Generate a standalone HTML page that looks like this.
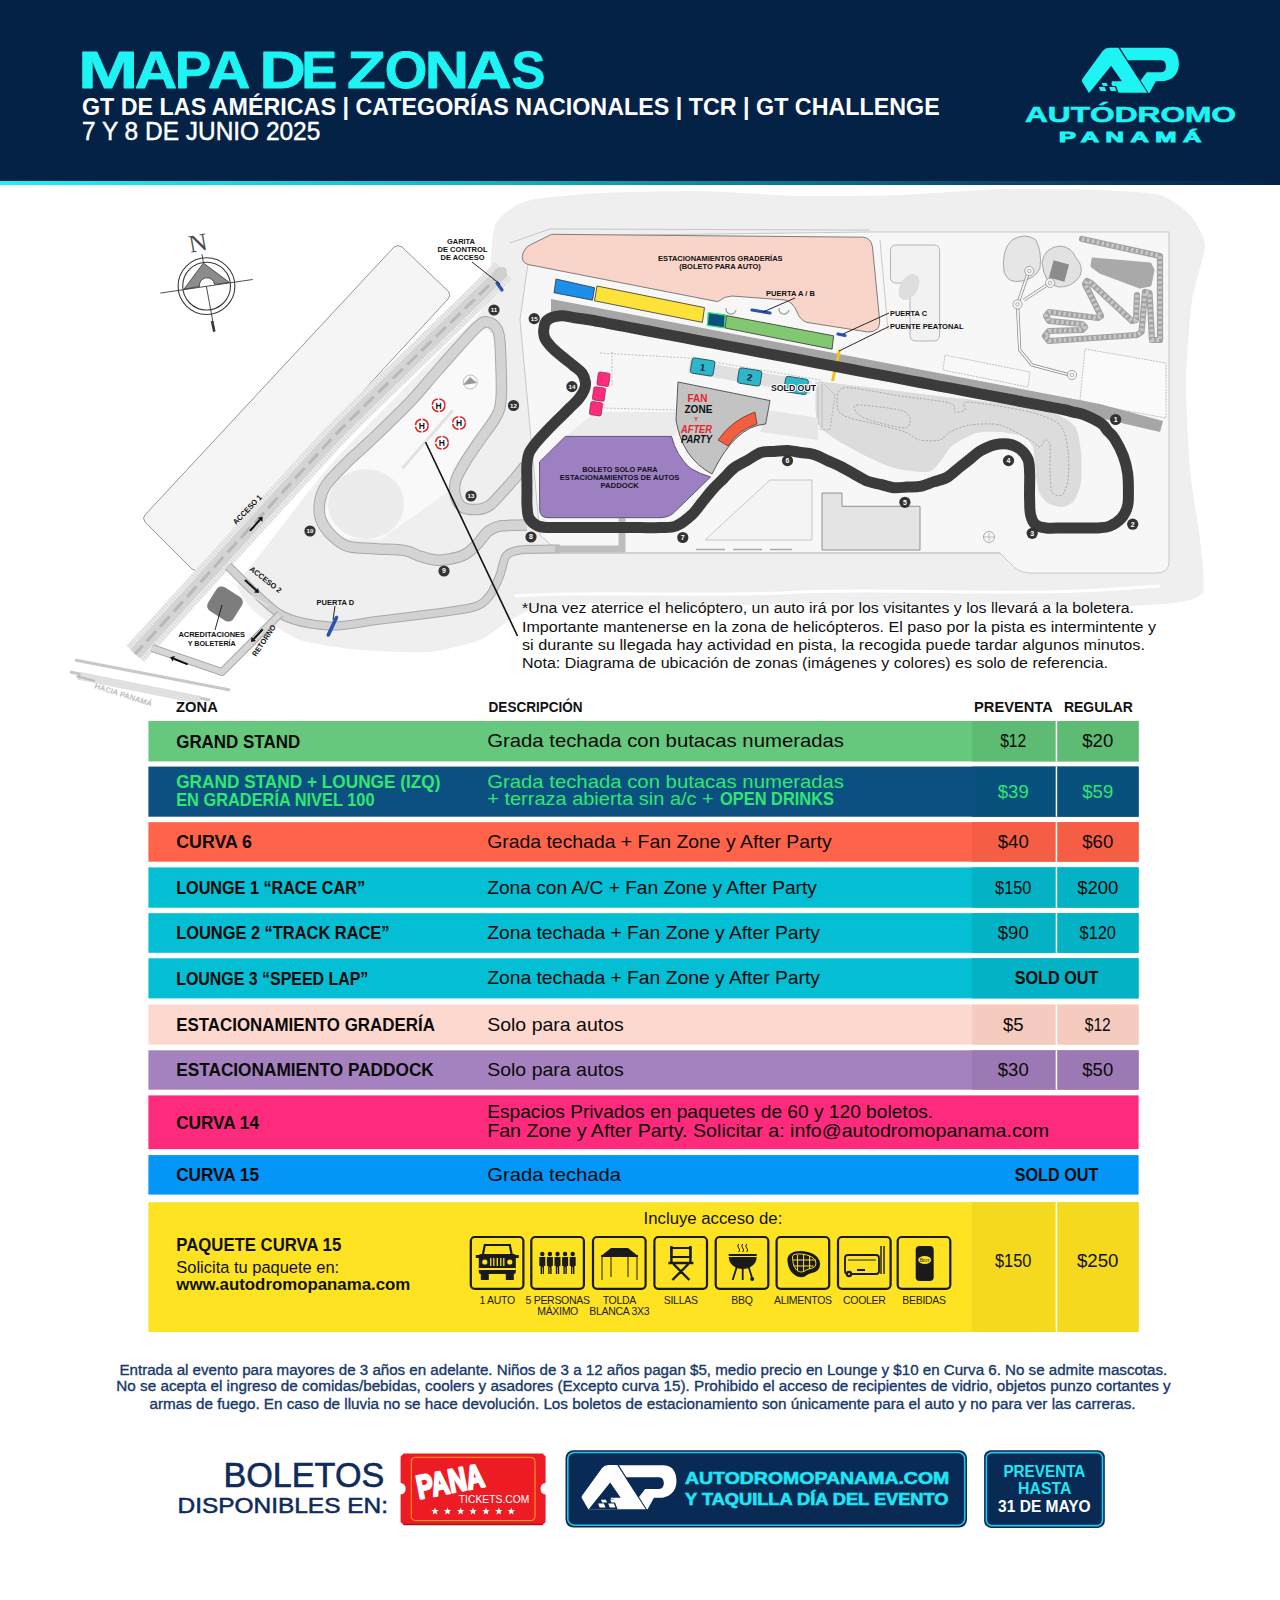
<!DOCTYPE html>
<html><head><meta charset="utf-8"><style>
html,body{margin:0;padding:0;background:#fff;}
svg{display:block;}
</style></head><body>
<svg width="1280" height="1600" viewBox="0 0 1280 1600">
<rect width="1280" height="1600" fill="#ffffff"/>
<path d="M494.0,228.0 C496.7,218.3 507.9,210.9 512.0,208.0 C516.1,205.1 526.2,200.5 535.0,199.0 C543.8,197.5 583.5,193.8 600.0,193.0 C616.5,192.2 680.0,190.7 700.0,191.0 C720.0,191.3 780.0,195.6 800.0,196.0 C820.0,196.4 880.0,195.7 900.0,195.0 C920.0,194.3 980.0,189.5 1000.0,189.0 C1020.0,188.5 1084.0,189.4 1100.0,190.0 C1116.0,190.6 1151.0,192.5 1160.0,195.0 C1169.0,197.5 1185.5,210.0 1190.0,215.0 C1194.5,220.0 1204.8,236.5 1205.0,245.0 C1205.2,253.5 1193.9,286.5 1192.0,300.0 C1190.1,313.5 1186.2,363.0 1186.0,380.0 C1185.8,397.0 1188.6,454.0 1190.0,470.0 C1191.4,486.0 1198.7,527.8 1200.0,540.0 C1201.3,552.2 1205.5,585.7 1203.0,592.0 C1200.5,598.3 1185.3,601.5 1175.0,603.0 C1164.7,604.5 1117.5,607.0 1100.0,607.0 C1082.5,607.0 1020.0,603.0 1000.0,603.0 C980.0,603.0 920.0,607.0 900.0,607.0 C880.0,607.0 820.0,603.0 800.0,603.0 C780.0,603.0 720.0,607.0 700.0,607.0 C680.0,607.0 616.0,603.0 600.0,603.0 C584.0,603.0 549.0,605.3 540.0,607.0 C531.0,608.7 516.0,616.7 510.0,620.0 C504.0,623.3 488.0,636.8 480.0,640.0 C472.0,643.2 442.0,651.0 430.0,652.0 C418.0,653.0 373.0,651.2 360.0,650.0 C347.0,648.8 310.5,643.8 300.0,640.0 C289.5,636.2 261.2,617.5 255.0,612.0 C248.8,606.5 237.3,591.0 238.0,585.0 C238.7,579.0 253.2,563.5 262.0,552.0 C270.8,540.5 315.4,482.7 326.0,470.0 C336.6,457.3 356.6,436.8 368.0,425.0 C379.4,413.2 428.3,364.0 440.0,352.0 C451.7,340.0 479.6,317.4 485.0,305.0 C490.4,292.6 491.3,237.7 494.0,228.0 Z" fill="#efefef"/>
<path d="M515,596 C600,590 700,598 800,592 C900,588 1000,596 1100,590 L1160,586" stroke="#ffffff" stroke-width="3" fill="none"/>
<path d="M870,232 L1169,232 L1169,562 Q1169,573 1156,573 L1030,573 Q1018,573 1010,563 L1000,553 L700,553 L560,553 L540,535 L520,320 L530,250 L560,236 Z" fill="#f7f7f7" stroke="#bdbdbd" stroke-width="0.8"/>
<path d="M490.0,327.0 C491.0,329.2 494.8,327.8 496.0,340.0 C497.2,352.2 498.0,386.7 497.0,400.0 C496.0,413.3 497.0,408.3 490.0,420.0 C483.0,431.7 461.3,458.0 455.0,470.0 C448.7,482.0 449.5,486.2 452.0,492.0 C454.5,497.8 462.0,502.0 470.0,505.0 C478.0,508.0 493.3,510.8 500.0,510.0 C506.7,509.2 508.0,506.7 510.0,500.0 C512.0,493.3 510.3,478.3 512.0,470.0 C513.7,461.7 518.7,453.3 520.0,450.0" fill="none"/>
<path d="M488,330 L496,338 L497,405 L452,470 L448,492 L380,540 L340,538 L325,515 L330,485 L470,332 Z" fill="#f9f9f9"/>
<ellipse cx="366" cy="504" rx="38" ry="35" fill="#ececec"/>
<path d="M394,247 Q398,244 402,247 L449,292 Q451,296 448,299 L199,569 Q196,572 192,569 L145,522 Q142,518 145,515 Z" fill="#f5f5f5" stroke="#8a8a8a" stroke-width="0.9"/>
<path d="M503.0,271.0 C499.4,274.6 496.4,278.0 481.6,292.5 C466.8,307.0 436.4,336.2 414.0,358.0 C391.6,379.8 365.0,404.9 346.9,423.1 C328.8,441.3 325.4,445.7 305.6,467.2 C285.8,488.7 253.7,523.8 228.0,552.0 C202.3,580.2 166.9,619.2 151.4,636.2 C135.9,653.2 137.7,651.0 135.0,654.0" stroke="#ececec" stroke-width="24" fill="none"/>
<path d="M503.0,271.0 C499.4,274.6 496.4,278.0 481.6,292.5 C466.8,307.0 436.4,336.2 414.0,358.0 C391.6,379.8 365.0,404.9 346.9,423.1 C328.8,441.3 325.4,445.7 305.6,467.2 C285.8,488.7 253.7,523.8 228.0,552.0 C202.3,580.2 166.9,619.2 151.4,636.2 C135.9,653.2 137.7,651.0 135.0,654.0" stroke="#a8a8a8" stroke-width="24" fill="none" stroke-dasharray="0.8 2" opacity="0.35"/>
<path d="M503.0,271.0 C499.4,274.6 496.4,278.0 481.6,292.5 C466.8,307.0 436.4,336.2 414.0,358.0 C391.6,379.8 365.0,404.9 346.9,423.1 C328.8,441.3 325.4,445.7 305.6,467.2 C285.8,488.7 253.7,523.8 228.0,552.0 C202.3,580.2 166.9,619.2 151.4,636.2 C135.9,653.2 137.7,651.0 135.0,654.0" stroke="#d4d4d4" stroke-width="13" fill="none"/>
<path d="M503.0,271.0 C499.4,274.6 496.4,278.0 481.6,292.5 C466.8,307.0 436.4,336.2 414.0,358.0 C391.6,379.8 365.0,404.9 346.9,423.1 C328.8,441.3 325.4,445.7 305.6,467.2 C285.8,488.7 253.7,523.8 228.0,552.0 C202.3,580.2 166.9,619.2 151.4,636.2 C135.9,653.2 137.7,651.0 135.0,654.0" stroke="#b8b8b8" stroke-width="3" stroke-dasharray="14 6" fill="none"/>
<ellipse cx="500" cy="274" rx="8" ry="6" fill="#cfcfcf" transform="rotate(-45 500 274)"/>
<path d="M525.0,466.0 C523.4,467.9 520.0,472.5 515.6,477.5 C511.2,482.5 503.1,491.6 498.8,496.2 C494.4,500.9 492.8,503.4 489.4,505.6 C486.0,507.8 482.5,509.1 478.1,509.4 C473.7,509.7 466.8,509.7 463.0,507.5 C459.2,505.3 456.8,500.6 455.6,496.2 C454.4,491.9 454.0,486.9 455.6,481.2 C457.2,475.6 460.9,469.4 465.0,462.5 C469.1,455.6 474.8,447.6 480.0,440.0 C485.2,432.4 492.5,423.7 496.0,417.0 C499.5,410.3 500.2,408.4 501.0,400.0 C501.8,391.6 501.4,377.6 501.0,366.6 C500.6,355.6 500.6,341.1 498.8,333.8 C496.9,326.4 493.6,323.9 490.0,322.8 C486.4,321.7 485.6,319.3 476.9,327.2 C468.2,335.1 449.0,357.7 438.0,370.0 C427.0,382.3 422.1,389.3 411.0,401.0 C399.9,412.7 381.9,429.8 371.2,440.0 C360.6,450.2 354.4,455.0 346.9,462.5 C339.4,470.0 330.8,478.4 326.2,485.0 C321.7,491.6 320.6,496.3 319.7,501.9 C318.8,507.5 318.9,513.4 320.6,518.8 C322.3,524.1 325.6,529.2 330.0,533.8 C334.4,538.3 339.4,543.5 346.9,546.0 C354.4,548.5 365.3,548.0 375.0,548.8 C384.7,549.5 397.5,549.4 405.0,550.6 C412.5,551.9 415.0,554.7 420.0,556.2 C425.0,557.8 430.0,559.5 435.0,560.0 C440.0,560.5 445.0,559.9 450.0,559.0 C455.0,558.1 460.3,557.0 465.0,554.4 C469.7,551.8 474.4,546.9 478.1,543.1 C481.9,539.4 484.1,534.7 487.5,531.9 C490.9,529.1 494.1,527.4 498.8,526.2 C503.4,525.1 510.9,525.5 515.6,525.3 C520.3,525.1 525.1,525.0 527.0,525.0" stroke="#a9a9a9" stroke-width="11.5" fill="none" stroke-linejoin="round"/>
<path d="M525.0,466.0 C523.4,467.9 520.0,472.5 515.6,477.5 C511.2,482.5 503.1,491.6 498.8,496.2 C494.4,500.9 492.8,503.4 489.4,505.6 C486.0,507.8 482.5,509.1 478.1,509.4 C473.7,509.7 466.8,509.7 463.0,507.5 C459.2,505.3 456.8,500.6 455.6,496.2 C454.4,491.9 454.0,486.9 455.6,481.2 C457.2,475.6 460.9,469.4 465.0,462.5 C469.1,455.6 474.8,447.6 480.0,440.0 C485.2,432.4 492.5,423.7 496.0,417.0 C499.5,410.3 500.2,408.4 501.0,400.0 C501.8,391.6 501.4,377.6 501.0,366.6 C500.6,355.6 500.6,341.1 498.8,333.8 C496.9,326.4 493.6,323.9 490.0,322.8 C486.4,321.7 485.6,319.3 476.9,327.2 C468.2,335.1 449.0,357.7 438.0,370.0 C427.0,382.3 422.1,389.3 411.0,401.0 C399.9,412.7 381.9,429.8 371.2,440.0 C360.6,450.2 354.4,455.0 346.9,462.5 C339.4,470.0 330.8,478.4 326.2,485.0 C321.7,491.6 320.6,496.3 319.7,501.9 C318.8,507.5 318.9,513.4 320.6,518.8 C322.3,524.1 325.6,529.2 330.0,533.8 C334.4,538.3 339.4,543.5 346.9,546.0 C354.4,548.5 365.3,548.0 375.0,548.8 C384.7,549.5 397.5,549.4 405.0,550.6 C412.5,551.9 415.0,554.7 420.0,556.2 C425.0,557.8 430.0,559.5 435.0,560.0 C440.0,560.5 445.0,559.9 450.0,559.0 C455.0,558.1 460.3,557.0 465.0,554.4 C469.7,551.8 474.4,546.9 478.1,543.1 C481.9,539.4 484.1,534.7 487.5,531.9 C490.9,529.1 494.1,527.4 498.8,526.2 C503.4,525.1 510.9,525.5 515.6,525.3 C520.3,525.1 525.1,525.0 527.0,525.0" stroke="#d4d4d4" stroke-width="9.5" fill="none" stroke-linejoin="round"/>
<path d="M560.0,549.0 C554.7,549.1 527.2,549.1 520.0,550.0 C512.8,550.9 508.7,552.7 506.0,556.0 C503.3,559.3 502.1,569.8 500.0,575.0 C497.9,580.2 494.0,590.6 490.0,595.0 C486.0,599.4 484.7,604.7 470.0,608.0 C455.3,611.3 398.7,617.6 380.0,620.0 C361.3,622.4 343.3,626.8 330.0,626.0 C316.7,625.2 293.6,622.0 280.0,614.0 C266.4,606.0 234.9,572.4 228.0,566.0" stroke="#a9a9a9" stroke-width="9" fill="none"/>
<path d="M560.0,549.0 C554.7,549.1 527.2,549.1 520.0,550.0 C512.8,550.9 508.7,552.7 506.0,556.0 C503.3,559.3 502.1,569.8 500.0,575.0 C497.9,580.2 494.0,590.6 490.0,595.0 C486.0,599.4 484.7,604.7 470.0,608.0 C455.3,611.3 398.7,617.6 380.0,620.0 C361.3,622.4 343.3,626.8 330.0,626.0 C316.7,625.2 293.6,622.0 280.0,614.0 C266.4,606.0 234.9,572.4 228.0,566.0" stroke="#d2d2d2" stroke-width="7" fill="none"/>
<path d="M622,517 L622,549 L555,549" stroke="#bdbdbd" stroke-width="7" fill="none"/>
<path d="M280,614 L222,672 L152,648" stroke="#a9a9a9" stroke-width="8" fill="none" stroke-linejoin="round"/>
<path d="M280,614 L222,672 L152,648" stroke="#d6d6d6" stroke-width="6" fill="none" stroke-linejoin="round"/>
<path d="M224,578 L268,606" stroke="#f0f0f0" stroke-width="1" fill="none"/>
<rect x="-15" y="-14" width="30" height="28" rx="6" fill="#7d7d7d" transform="translate(225,604) rotate(32)"/>
<path d="M70,672 L210,700 M75,660 L230,690" stroke="#c8c8c8" stroke-width="3" fill="none"/>
<path d="M80,676 L200,700" stroke="#e0e0e0" stroke-width="8" fill="none"/>
<path d="M890.5,251 Q890.5,245 896,245 L934,245 Q939.6,245 939.6,251 L939.6,335 Q939.6,341 934,341 L916,341 Q910,341 910,335 L910,283 L896,283 Q890.5,283 890.5,277 Z" fill="#f2f2f2" stroke="#9a9a9a" stroke-width="0.7"/>
<ellipse cx="909" cy="287" rx="9" ry="14" fill="#dedede" transform="rotate(30 909 287)"/>
<path d="M1004,272 Q1001,250 1012,240 Q1025,232 1036,240 Q1042,252 1040,268 Q1036,278 1022,281 Q1008,284 1004,272 Z" fill="#e6e6e6" stroke="#8a8a8a" stroke-width="0.7"/>
<path d="M1042,262 Q1045,247 1060,246 Q1072,247 1076,258 Q1084,266 1080,276 Q1072,288 1058,287 Q1044,284 1042,262 Z" fill="#e2e2e2" stroke="#8a8a8a" stroke-width="0.7"/>
<rect x="1051" y="262" width="16" height="18" fill="#8c8c8c" transform="rotate(15 1059 271)"/>
<path d="M1029,271 L1017.5,304.4 L1019.7,350 L1032,365 L1070,375 M1050,283 L1024,300" stroke="#888" stroke-width="3.2" fill="none" stroke-linejoin="round"/>
<path d="M1029,271 L1017.5,304.4 L1019.7,350 L1032,365 L1070,375 M1050,283 L1024,300" stroke="#f6f6f6" stroke-width="1.8" fill="none" stroke-linejoin="round"/>
<circle cx="1029.3" cy="271" r="4.6" fill="#f6f6f6" stroke="#888" stroke-width="0.7"/><circle cx="1029.3" cy="271" r="1.8" fill="none" stroke="#888" stroke-width="0.6"/>
<circle cx="1050.1" cy="282.9" r="4.6" fill="#f6f6f6" stroke="#888" stroke-width="0.7"/><circle cx="1050.1" cy="282.9" r="1.8" fill="none" stroke="#888" stroke-width="0.6"/>
<circle cx="1017.5" cy="304.4" r="4.6" fill="#f6f6f6" stroke="#888" stroke-width="0.7"/><circle cx="1017.5" cy="304.4" r="1.8" fill="none" stroke="#888" stroke-width="0.6"/>
<circle cx="1072" cy="375" r="4.6" fill="#f6f6f6" stroke="#888" stroke-width="0.7"/><circle cx="1072" cy="375" r="1.8" fill="none" stroke="#888" stroke-width="0.6"/>
<path d="M1093,259 L1150,264 L1153,270 L1150,285 L1140,287 L1100,272 L1092,266 Z" fill="#a9a9a9" stroke="#a9a9a9" stroke-width="3" stroke-linejoin="round"/>
<path d="M1082,239 L1160,256 L1160,340 L1152,340 L1149.5,293 L1145,292 L1141.5,332 L1137,335 L1049,341 L1045,336 L1049,331 L1082,330 L1085,327 L1082,324 L1049,321 L1046,316 L1049,312 L1098,318 L1101,316 L1085,284 L1087,281 L1091,283 L1132,321 L1136,320 L1137,295" stroke="#a3a3a3" stroke-width="6.2" fill="none" stroke-linejoin="round" stroke-linecap="round"/>
<path d="M1082,239 L1160,256 L1160,340 L1152,340 L1149.5,293 L1145,292 L1141.5,332 L1137,335 L1049,341 L1045,336 L1049,331 L1082,330 L1085,327 L1082,324 L1049,321 L1046,316 L1049,312 L1098,318 L1101,316 L1085,284 L1087,281 L1091,283 L1132,321 L1136,320 L1137,295" stroke="#c9c9c9" stroke-width="4" stroke-dasharray="2.5 2.5" fill="none"/>
<path d="M945,355 L1030,372 L1028,387 L943,370 Z" fill="#f8f8f8" stroke="#9a9a9a" stroke-width="0.6" stroke-dasharray="2 1"/>
<path d="M1085,349 L1166,363 L1166,418 L1100,406 L1080,400 Z" fill="#fafafa" stroke="#9a9a9a" stroke-width="0.6" stroke-dasharray="2 1"/>
<path d="M823.0,382.0 C836.3,383.1 905.4,392.0 930.0,395.0 C954.6,398.0 1018.6,404.9 1034.0,407.5 C1049.4,410.1 1057.1,414.6 1062.0,417.0 C1066.9,419.4 1073.8,423.9 1076.0,428.0 C1078.2,432.1 1080.4,445.7 1081.0,452.0 C1081.6,458.3 1081.8,476.3 1081.0,482.0 C1080.2,487.7 1076.2,498.1 1074.0,501.0 C1071.8,503.9 1065.0,506.8 1062.0,507.0 C1059.0,507.2 1050.7,504.8 1048.0,503.0 C1045.3,501.2 1040.5,496.1 1039.0,492.0 C1037.5,487.9 1035.7,473.2 1035.0,468.0 C1034.3,462.8 1034.5,450.7 1033.0,447.0 C1031.5,443.3 1025.8,437.8 1022.0,436.0 C1018.1,434.2 1005.4,432.4 1000.0,432.0 C994.6,431.6 981.6,431.4 976.0,433.0 C970.4,434.6 956.2,442.6 952.0,446.0 C947.8,449.4 942.8,459.0 940.0,462.0 C937.2,465.0 933.4,471.3 928.0,472.0 C922.6,472.7 902.2,470.3 894.0,468.0 C885.8,465.7 866.8,456.9 858.0,452.0 C849.2,447.1 823.9,433.7 819.0,426.0 C814.1,418.3 815.5,391.1 816.0,386.0 C816.5,380.9 809.7,380.9 823.0,382.0 Z" fill="#dcdcdc"/>
<path d="M843.0,388.0 C851.3,386.1 885.7,394.0 900.0,396.0 C914.3,398.0 942.7,400.9 950.0,403.0 C957.3,405.1 953.0,411.1 955.0,412.0 C957.0,412.9 963.3,411.3 965.0,410.0 C966.7,408.7 959.3,401.7 968.0,402.0 C976.7,402.3 1017.7,408.9 1030.0,412.0 C1042.3,415.1 1054.9,419.9 1060.0,425.0 C1065.1,430.1 1066.9,442.7 1068.0,450.0 C1069.1,457.3 1068.8,474.0 1068.0,480.0 C1067.2,486.0 1064.1,493.4 1062.0,495.0 C1059.9,496.6 1053.6,495.3 1052.0,492.0 C1050.4,488.7 1050.3,476.3 1050.0,470.0 C1049.7,463.7 1050.7,449.0 1050.0,445.0 C1049.3,441.0 1046.3,439.7 1045.0,440.0 C1043.7,440.3 1042.0,447.0 1040.0,447.0 C1038.0,447.0 1035.3,442.9 1030.0,440.0 C1024.7,437.1 1008.0,427.0 1000.0,425.0 C992.0,423.0 976.7,424.1 970.0,425.0 C963.3,425.9 954.0,430.0 950.0,432.0 C946.0,434.0 944.0,438.9 940.0,440.0 C936.0,441.1 924.7,441.1 920.0,440.0 C915.3,438.9 910.3,434.0 905.0,432.0 C899.7,430.0 887.3,426.9 880.0,425.0 C872.7,423.1 855.6,420.0 850.0,418.0 C844.4,416.0 838.9,414.0 838.0,410.0 C837.1,406.0 834.7,389.9 843.0,388.0 Z" fill="none" stroke="#8a8a8a" stroke-width="0.6" stroke-dasharray="2.2 1.5"/>
<path d="M857.0,405.0 C862.7,404.6 892.9,408.3 900.0,410.0 C907.1,411.7 909.3,415.6 910.0,418.0 C910.7,420.4 910.3,427.7 905.0,428.0 C899.7,428.3 876.4,422.0 870.0,420.0 C863.6,418.0 858.7,415.0 857.0,413.0 C855.3,411.0 851.3,405.4 857.0,405.0 Z" fill="none" stroke="#8a8a8a" stroke-width="0.6" stroke-dasharray="2.2 1.5"/>
<path d="M818,386 L818,425 M822,384 L822,428" stroke="#aaa" stroke-width="0.6" fill="none"/>
<path d="M822,493 L842,493 L842,506.3 L920,506.3 L920,550 L822,550 Z" fill="#e4e4e4" stroke="#7a7a7a" stroke-width="0.8"/>
<path d="M705,540 L770,480 L812,480 L812,540 Z" fill="#f4f4f4" stroke="#aaa" stroke-width="0.6"/>
<path d="M696,549.5 H725 M733,549.5 H762 M770,549.5 H792" stroke="#aaa" stroke-width="1.4"/>
<path d="M520,553 L1000,553" stroke="#bbb" stroke-width="0.7"/>
<circle cx="989" cy="537" r="5.5" fill="none" stroke="#999" stroke-width="0.8"/><path d="M983.5,537 H994.5 M989,533 V541" stroke="#999" stroke-width="0.6"/>
<path d="M551.6,234.3 L863.3,237.2 Q871,238 872.5,247 L879.7,321 Q880,332 868,332 L806.9,322.4 Q800,320 797,312 Q793,302 785,300 L732,296 Q724,296 717.8,301.7 L528,264.5 Q520,262 523.4,252 Q526,246 532,244 Z" fill="#f9d4c9" stroke="#707070" stroke-width="0.9"/>
<path d="M510,243 L550,229 L870,230 M880,240 L888,330" stroke="#aaa" stroke-width="0.6" fill="none"/>
<path d="M551,299 L1100,404 L1163,421 L1160,432 L1100,418 L551,314 Z" fill="#a6a6a6"/>
<path d="M556,279 L594.6,287.7 L592.5,300.2 L554,292.7 Z" fill="#1b8fea" stroke="#333" stroke-width="0.8" stroke-linejoin="round"/>
<path d="M597,286 L704.5,307.6 L702.4,322.4 L594.5,300.8 Z" fill="#fde23a" stroke="#333" stroke-width="0.8" stroke-linejoin="round"/>
<path d="M708.3,312.6 L725.3,315 L724.4,327.8 L707.4,325.4 Z" fill="#0b4f7f" stroke="#2ee870" stroke-width="1.3" stroke-linejoin="round"/>
<path d="M726.5,315.6 L833.6,335.8 L832.1,349.2 L725.2,328 Z" fill="#82c870" stroke="#333" stroke-width="0.8" stroke-linejoin="round"/>
<path d="M726,308 A5,5 0 0 0 736,310" stroke="#999" stroke-width="1.2" fill="none"/>
<path d="M779,308 A5,5 0 0 0 789,310" stroke="#999" stroke-width="1.2" fill="none"/>
<path d="M752,310 L770,313" stroke="#2a4fb5" stroke-width="3.2" stroke-linecap="round"/>
<path d="M838,334 L845,335.5" stroke="#2a4fb5" stroke-width="3.2" stroke-linecap="round"/>
<path d="M497,283 L502,290" stroke="#2a4fb5" stroke-width="3.2" stroke-linecap="round"/>
<path d="M839.5,350 L832.5,381" stroke="#f0c419" stroke-width="3" stroke-linecap="butt"/>
<path d="M690,360 L812,381 L810,394 L688,373 Z" fill="#e0e0e0"/>
<path d="M600,353 L690,358 L820,380 L835,395 L830,430 L760,425" stroke="#999" stroke-width="0.6" stroke-dasharray="2 1.5" fill="none"/>
<g transform="translate(692.5,357.5) rotate(9)"><rect x="0" y="0" width="23" height="15.5" rx="2.5" fill="#2db7c9" stroke="#25515e" stroke-width="0.9"/><text x="11.5" y="11.5" font-family="Liberation Sans" font-weight="bold" font-size="9.5" text-anchor="middle" fill="#0d2233">1</text></g>
<g transform="translate(739.5,367.5) rotate(9)"><rect x="0" y="0" width="23" height="15.5" rx="2.5" fill="#2db7c9" stroke="#25515e" stroke-width="0.9"/><text x="11.5" y="11.5" font-family="Liberation Sans" font-weight="bold" font-size="9.5" text-anchor="middle" fill="#0d2233">2</text></g>
<g transform="translate(786,376) rotate(9)"><rect x="0" y="0" width="23" height="15.5" rx="2.5" fill="#2db7c9" stroke="#25515e" stroke-width="0.9"/><text x="11.5" y="11.5" font-family="Liberation Sans" font-weight="bold" font-size="9.5" text-anchor="middle" fill="#0d2233"></text></g>
<text x="771" y="390.5" font-family="Liberation Sans" font-weight="bold" font-size="9.2" fill="#111" stroke="#fff" stroke-width="2.2" paint-order="stroke" textLength="45" lengthAdjust="spacingAndGlyphs">SOLD OUT</text>
<path d="M596,412 L676,412 L676,436 L566,436 Z" fill="#ebebeb"/>
<path d="M768,410 L818,418 L818,440 L790,436 L760,432 Z" fill="#e6e6e6"/>
<path d="M612,352 L612,385 L604,390 L604,408 L676,410" stroke="#999" stroke-width="0.6" stroke-dasharray="2 1.5" fill="none"/>
<path d="M678,382 L770,400.6 L765.6,424 Q735,426 712,474 Q682,458 676,420 Z" fill="#c3c3c3" stroke="#4a4a4a" stroke-width="0.9" stroke-linejoin="round"/>
<path d="M718,440 Q732,420 755,412 L757,424 Q738,430 728,446 Z" fill="#f0603e" stroke="#5a2a20" stroke-width="0.7"/>
<text x="687.5" y="402" font-family="Liberation Sans" font-weight="bold" font-size="10.5" fill="#e8262c" textLength="20" lengthAdjust="spacingAndGlyphs">FAN</text>
<text x="684.4" y="413" font-family="Liberation Sans" font-weight="bold" font-size="10.5" fill="#111" textLength="28" lengthAdjust="spacingAndGlyphs">ZONE</text>
<text x="696" y="421" font-family="Liberation Sans" font-weight="bold" font-size="6" fill="#e8262c" text-anchor="middle">Y</text>
<text x="681" y="432.5" font-family="Liberation Sans" font-weight="bold" font-style="italic" font-size="10" fill="#e8262c" textLength="31" lengthAdjust="spacingAndGlyphs">AFTER</text>
<text x="681" y="442.5" font-family="Liberation Sans" font-weight="bold" font-style="italic" font-size="10" fill="#111" textLength="31" lengthAdjust="spacingAndGlyphs">PARTY</text>
<path d="M565.3,436.4 L671.6,436.4 Q676,455 690,468 Q700,474 710.6,477 L676,510.6 Q670,517.7 660,517.7 L548,517.7 Q540,517.7 539.7,510 L539.5,462 Z" fill="#9d80c1" stroke="#4a3a60" stroke-width="0.8" stroke-linejoin="round"/>
<text x="582.2" y="471.6" font-family="Liberation Sans" font-weight="bold" font-size="8.1" fill="#141020" textLength="75.3" lengthAdjust="spacingAndGlyphs" >BOLETO SOLO PARA</text>
<text x="559.8" y="480.2" font-family="Liberation Sans" font-weight="bold" font-size="8.1" fill="#141020" textLength="119.6" lengthAdjust="spacingAndGlyphs" >ESTACIONAMIENTOS DE AUTOS</text>
<text x="600.5" y="488.3" font-family="Liberation Sans" font-weight="bold" font-size="8.1" fill="#141020" textLength="38.3" lengthAdjust="spacingAndGlyphs" >PADDOCK</text>
<rect x="597.5" y="372.5" width="12" height="13.4" rx="1.8" fill="#fd2b7b" stroke="#8a1a45" stroke-width="0.6" transform="rotate(8 603.5 379.2)"/>
<rect x="593" y="387.3" width="12" height="13.4" rx="1.8" fill="#fd2b7b" stroke="#8a1a45" stroke-width="0.6" transform="rotate(8 599 394.0)"/>
<rect x="590" y="402" width="12" height="13.4" rx="1.8" fill="#fd2b7b" stroke="#8a1a45" stroke-width="0.6" transform="rotate(8 596 408.7)"/>
<circle cx="438.6" cy="405.3" r="6.3" fill="#fff" stroke="#d9262c" stroke-width="1.6" stroke-dasharray="8.4 1.5"/>
<text x="438.6" y="408.5" font-family="Liberation Sans" font-weight="bold" font-size="8.5" text-anchor="middle" fill="#111">H</text>
<circle cx="421.8" cy="425.6" r="6.3" fill="#fff" stroke="#d9262c" stroke-width="1.6" stroke-dasharray="8.4 1.5"/>
<text x="421.8" y="428.8" font-family="Liberation Sans" font-weight="bold" font-size="8.5" text-anchor="middle" fill="#111">H</text>
<circle cx="459" cy="423" r="6.3" fill="#fff" stroke="#d9262c" stroke-width="1.6" stroke-dasharray="8.4 1.5"/>
<text x="459" y="426.2" font-family="Liberation Sans" font-weight="bold" font-size="8.5" text-anchor="middle" fill="#111">H</text>
<circle cx="441.9" cy="442.7" r="6.3" fill="#fff" stroke="#d9262c" stroke-width="1.6" stroke-dasharray="8.4 1.5"/>
<text x="441.9" y="445.9" font-family="Liberation Sans" font-weight="bold" font-size="8.5" text-anchor="middle" fill="#111">H</text>
<path d="M452.8,410.3 L402.5,468.3" stroke="#e2e2e2" stroke-width="3"/>
<path d="M560.6,315.8 C565.2,315.4 570.0,317.1 574.7,317.8 C579.4,318.4 583.3,318.8 588.8,319.7 C594.3,320.6 601.4,322.1 607.8,323.3 C614.1,324.5 620.4,325.7 626.7,326.9 C633.1,328.1 639.4,329.3 645.7,330.5 C652.0,331.7 658.3,332.9 664.7,334.1 C671.0,335.3 677.3,336.5 683.6,337.7 C690.0,338.9 696.3,340.1 702.6,341.3 C708.9,342.4 715.3,343.6 721.6,344.8 C727.9,346.0 734.2,347.2 740.5,348.4 C746.9,349.6 753.2,350.8 759.5,352.0 C765.8,353.2 772.2,354.4 778.5,355.6 C784.8,356.8 791.1,358.0 797.4,359.2 C803.8,360.4 810.1,361.6 816.4,362.8 C822.7,364.0 829.1,365.2 835.4,366.4 C841.7,367.6 848.0,368.8 854.4,370.0 C860.7,371.2 867.0,372.4 873.3,373.6 C879.6,374.8 886.0,376.0 892.3,377.2 C898.6,378.4 904.9,379.6 911.3,380.8 C917.6,382.0 923.9,383.2 930.2,384.4 C936.5,385.6 942.9,386.8 949.2,387.9 C955.5,389.1 961.8,390.3 968.2,391.5 C974.5,392.7 980.8,393.9 987.1,395.1 C993.5,396.3 999.8,397.5 1006.1,398.7 C1012.4,399.9 1018.7,401.1 1025.1,402.3 C1031.4,403.5 1037.7,404.7 1044.0,405.9 C1050.4,407.1 1058.1,408.5 1063.0,409.5 C1067.9,410.5 1069.9,411.2 1073.4,412.1 C1076.9,413.0 1079.2,412.8 1083.8,414.7 C1088.4,416.6 1097.0,420.6 1101.0,423.3 C1105.0,426.0 1105.6,428.5 1107.8,431.1 C1110.1,433.6 1112.1,434.6 1114.7,438.8 C1117.3,443.0 1121.2,450.3 1123.3,456.0 C1125.4,461.7 1126.8,467.3 1127.6,473.0 C1128.4,478.7 1128.4,484.8 1128.4,490.3 C1128.4,495.8 1128.7,501.2 1127.6,505.8 C1126.5,510.4 1124.6,514.4 1121.6,517.8 C1118.6,521.2 1113.5,524.6 1109.5,526.3 C1105.5,528.0 1102.4,527.7 1097.5,528.0 C1092.6,528.3 1086.1,528.0 1080.3,528.0 C1074.6,528.0 1068.9,528.0 1063.2,528.0 C1057.4,528.0 1050.6,528.5 1046.0,528.0 C1041.4,527.5 1038.2,527.0 1035.6,524.7 C1033.0,522.4 1031.5,518.7 1030.5,514.4 C1029.5,510.1 1029.8,503.7 1029.6,499.0 C1029.4,494.3 1029.6,490.3 1029.6,486.0 C1029.6,481.7 1029.9,477.4 1029.6,473.0 C1029.3,468.6 1029.6,463.4 1028.0,459.4 C1026.4,455.4 1023.3,451.6 1020.0,449.0 C1016.7,446.4 1012.3,444.7 1008.0,444.0 C1003.7,443.3 999.0,443.7 994.4,444.8 C989.8,445.9 984.6,448.5 980.6,450.8 C976.6,453.1 973.7,456.2 970.3,458.9 C966.9,461.6 963.9,463.9 960.0,467.0 C956.1,470.1 951.4,474.9 947.0,477.4 C942.6,479.9 938.0,480.4 933.5,481.9 C929.0,483.4 924.4,485.5 920.0,486.4 C915.6,487.3 911.3,486.8 907.0,487.0 C902.7,487.3 898.4,488.1 894.0,487.7 C889.6,487.2 885.0,485.5 880.5,484.4 C876.0,483.2 871.5,482.8 867.0,481.0 C862.5,479.2 858.2,476.2 853.8,473.8 C849.4,471.3 845.0,468.7 840.6,466.5 C836.2,464.3 831.7,462.5 827.3,460.5 C822.9,458.5 818.4,455.8 814.0,454.5 C809.6,453.2 805.2,453.2 800.8,452.5 C796.3,451.8 791.9,450.7 787.5,450.5 C783.1,450.3 778.7,451.2 774.2,451.5 C769.8,451.8 765.5,451.0 761.0,452.5 C756.5,454.0 752.0,457.7 747.5,460.2 C743.0,462.8 738.0,465.0 734.0,468.0 C730.0,471.0 727.0,475.0 723.5,478.5 C720.0,482.0 716.5,485.1 713.0,489.0 C709.5,492.9 706.0,497.5 702.5,501.8 C699.0,506.1 696.4,510.6 692.0,514.6 C687.6,518.6 681.3,523.8 676.0,526.0 C670.7,528.2 665.8,527.3 660.0,527.6 C654.2,527.9 647.6,527.6 641.3,527.6 C635.1,527.6 628.9,527.6 622.7,527.6 C616.4,527.6 610.2,527.6 604.0,527.5 C597.8,527.5 591.6,527.5 585.3,527.5 C579.1,527.5 572.9,527.5 566.7,527.5 C560.4,527.5 552.9,527.8 548.0,527.5 C543.1,527.2 540.2,527.1 537.0,525.5 C533.8,523.9 530.7,521.4 529.0,518.0 C527.3,514.6 527.3,509.2 527.0,505.0 C526.7,500.8 527.0,496.7 527.0,492.5 C526.9,488.3 526.9,484.7 526.9,480.0 C526.9,475.3 526.5,468.8 526.9,464.2 C527.3,459.8 527.6,456.6 529.1,453.0 C530.6,449.4 532.9,446.6 535.9,442.9 C538.9,439.1 543.4,434.4 547.1,430.5 C550.9,426.6 554.6,423.0 558.4,419.2 C562.1,415.5 566.2,411.4 569.6,408.0 C573.0,404.6 576.2,402.0 578.6,399.0 C581.0,396.0 583.1,392.8 584.2,390.0 C585.4,387.2 585.8,384.9 585.4,382.1 C585.0,379.3 584.1,375.9 582.0,373.1 C579.9,370.3 576.4,368.1 573.0,365.2 C569.6,362.4 565.3,359.2 561.8,356.2 C558.2,353.2 554.4,350.2 551.6,347.2 C548.8,344.2 546.2,341.2 544.9,338.2 C543.6,335.2 543.4,332.2 543.8,329.2 C544.1,326.2 544.3,322.5 547.1,320.2 C549.9,318.0 556.0,316.2 560.6,315.8 Z" stroke="#3b3b3b" stroke-width="11" fill="none" stroke-linejoin="round"/>
<circle cx="1115.6" cy="419.5" r="5.6" fill="#333"/>
<text x="1115.6" y="421.9" font-family="Liberation Sans" font-weight="bold" font-size="7" text-anchor="middle" fill="#fff">1</text>
<circle cx="1132.7" cy="524.2" r="5.6" fill="#333"/>
<text x="1132.7" y="526.6" font-family="Liberation Sans" font-weight="bold" font-size="7" text-anchor="middle" fill="#fff">2</text>
<circle cx="1032.2" cy="533.3" r="5.6" fill="#333"/>
<text x="1032.2" y="535.7" font-family="Liberation Sans" font-weight="bold" font-size="7" text-anchor="middle" fill="#fff">3</text>
<circle cx="1008.5" cy="460.6" r="5.6" fill="#333"/>
<text x="1008.5" y="463.0" font-family="Liberation Sans" font-weight="bold" font-size="7" text-anchor="middle" fill="#fff">4</text>
<circle cx="904.9" cy="502.3" r="5.6" fill="#333"/>
<text x="904.9" y="504.7" font-family="Liberation Sans" font-weight="bold" font-size="7" text-anchor="middle" fill="#fff">5</text>
<circle cx="787.5" cy="460.6" r="5.6" fill="#333"/>
<text x="787.5" y="463.0" font-family="Liberation Sans" font-weight="bold" font-size="7" text-anchor="middle" fill="#fff">6</text>
<circle cx="682.8" cy="537.5" r="5.6" fill="#333"/>
<text x="682.8" y="539.9" font-family="Liberation Sans" font-weight="bold" font-size="7" text-anchor="middle" fill="#fff">7</text>
<circle cx="531" cy="537" r="5.6" fill="#333"/>
<text x="531" y="539.4" font-family="Liberation Sans" font-weight="bold" font-size="7" text-anchor="middle" fill="#fff">8</text>
<circle cx="444" cy="571" r="5.6" fill="#333"/>
<text x="444" y="573.4" font-family="Liberation Sans" font-weight="bold" font-size="7" text-anchor="middle" fill="#fff">9</text>
<circle cx="310" cy="531" r="5.6" fill="#333"/>
<text x="310" y="533.4" font-family="Liberation Sans" font-weight="bold" font-size="6.2" text-anchor="middle" fill="#fff">10</text>
<circle cx="494" cy="310" r="5.6" fill="#333"/>
<text x="494" y="312.4" font-family="Liberation Sans" font-weight="bold" font-size="6.2" text-anchor="middle" fill="#fff">11</text>
<circle cx="513.5" cy="405.5" r="5.6" fill="#333"/>
<text x="513.5" y="407.9" font-family="Liberation Sans" font-weight="bold" font-size="6.2" text-anchor="middle" fill="#fff">12</text>
<circle cx="471" cy="496" r="5.6" fill="#333"/>
<text x="471" y="498.4" font-family="Liberation Sans" font-weight="bold" font-size="6.2" text-anchor="middle" fill="#fff">13</text>
<circle cx="571.9" cy="386.6" r="5.6" fill="#333"/>
<text x="571.9" y="389.0" font-family="Liberation Sans" font-weight="bold" font-size="6.2" text-anchor="middle" fill="#fff">14</text>
<circle cx="534.2" cy="318.6" r="5.6" fill="#333"/>
<text x="534.2" y="321.0" font-family="Liberation Sans" font-weight="bold" font-size="6.2" text-anchor="middle" fill="#fff">15</text>
<circle cx="206.5" cy="286.1" r="28.4" fill="none" stroke="#3a3a3a" stroke-width="1.1"/>
<circle cx="206.6" cy="286.1" r="23.9" fill="none" stroke="#3a3a3a" stroke-width="1.1"/>
<path d="M203.4,263.1 L229.2,282.3 L214.5,284.3 A7,7 0 0 0 199.5,286.4 L183.75,289.4 Z" fill="#8c8c8c" stroke="#333" stroke-width="0.8" stroke-linejoin="round"/>
<path d="M160.3,293.1 L252.7,279.5" stroke="#3a3a3a" stroke-width="0.9"/>
<path d="M202,254.2 L203.4,263 M206.3,286 L214.7,331.6" stroke="#3a3a3a" stroke-width="0.9"/>
<path d="M212,321 L214.3,331.6" stroke="#3a3a3a" stroke-width="2.6"/>
<text x="188.4" y="251.4" font-family="Liberation Serif" font-size="25" fill="#4a4a4a" transform="rotate(-10 197.5 242)" textLength="18.5" lengthAdjust="spacingAndGlyphs">N</text>
<circle cx="470.3" cy="382" r="7" fill="none" stroke="#999" stroke-width="0.6"/><path d="M463,385 L470,377 L477,383 Z" fill="#999"/>
<text x="447.0" y="243.8" font-family="Liberation Sans" font-weight="bold" font-size="7.8" fill="#111" textLength="28.0" lengthAdjust="spacingAndGlyphs" >GARITA</text>
<text x="437.5" y="252.0" font-family="Liberation Sans" font-weight="bold" font-size="7.8" fill="#111" textLength="50.0" lengthAdjust="spacingAndGlyphs" >DE CONTROL</text>
<text x="440.5" y="260.2" font-family="Liberation Sans" font-weight="bold" font-size="7.8" fill="#111" textLength="44.0" lengthAdjust="spacingAndGlyphs" >DE ACCESO</text>
<path d="M472,262 L500,284" stroke="#111" stroke-width="0.9"/>
<text x="657.9" y="261.0" font-family="Liberation Sans" font-weight="bold" font-size="7.8" fill="#111" textLength="124.7" lengthAdjust="spacingAndGlyphs" >ESTACIONAMIENTOS GRADERÍAS</text>
<text x="679.2" y="269.0" font-family="Liberation Sans" font-weight="bold" font-size="7.8" fill="#111" textLength="81.7" lengthAdjust="spacingAndGlyphs" >(BOLETO PARA AUTO)</text>
<text x="766.0" y="296.0" font-family="Liberation Sans" font-weight="bold" font-size="7.8" fill="#111" textLength="49.0" lengthAdjust="spacingAndGlyphs" >PUERTA A / B</text>
<path d="M795,298 L763,312" stroke="#111" stroke-width="0.9"/>
<text x="890.0" y="315.6" font-family="Liberation Sans" font-weight="bold" font-size="7.8" fill="#111" textLength="37.1" lengthAdjust="spacingAndGlyphs" >PUERTA C</text>
<text x="890.0" y="328.9" font-family="Liberation Sans" font-weight="bold" font-size="7.8" fill="#111" textLength="73.5" lengthAdjust="spacingAndGlyphs" >PUENTE PEATONAL</text>
<path d="M889,313 L843,334 M889,326.5 L839,351" stroke="#111" stroke-width="0.9"/>
<text x="316.6" y="604.6" font-family="Liberation Sans" font-weight="bold" font-size="7.8" fill="#111" textLength="37.5" lengthAdjust="spacingAndGlyphs" >PUERTA D</text>
<path d="M335,606 L333,620" stroke="#111" stroke-width="0.9"/>
<path d="M336.5,617.5 L328.3,635" stroke="#2a4fb5" stroke-width="3.6" stroke-linecap="round"/>
<text x="178.4" y="637.4" font-family="Liberation Sans" font-weight="bold" font-size="7.8" fill="#111" textLength="66.7" lengthAdjust="spacingAndGlyphs" >ACREDITACIONES</text>
<text x="187.7" y="645.6" font-family="Liberation Sans" font-weight="bold" font-size="7.8" fill="#111" textLength="48.1" lengthAdjust="spacingAndGlyphs" >Y BOLETERÍA</text>
<path d="M222,605 L215,630" stroke="#111" stroke-width="0.9"/>
<text x="0" y="0" font-family="Liberation Sans" font-weight="bold" font-size="7.6" fill="#111" transform="translate(236,525) rotate(-46)" textLength="38" lengthAdjust="spacingAndGlyphs">ACCESO 1</text>
<text x="0" y="0" font-family="Liberation Sans" font-weight="bold" font-size="7.6" fill="#111" transform="translate(249,570) rotate(38)" textLength="38" lengthAdjust="spacingAndGlyphs">ACCESO 2</text>
<text x="0" y="0" font-family="Liberation Sans" font-weight="bold" font-size="7.6" fill="#111" transform="translate(256,657) rotate(-56)" textLength="36" lengthAdjust="spacingAndGlyphs">RETORNO</text>
<text x="0" y="0" font-family="Liberation Sans" font-weight="bold" font-size="7.6" fill="#bbb" transform="translate(94,688) rotate(18)" textLength="60" lengthAdjust="spacingAndGlyphs">HACIA PANAMÁ</text>
<path d="M250,530.8 L260.0,519.7" stroke="#111" stroke-width="2"/>
<path d="M262.7,516.7 L262.3,521.7 L257.8,517.7 Z" fill="#111"/>
<path d="M245,580 L256.1,590.2" stroke="#111" stroke-width="2"/>
<path d="M259,592.9 L254.0,592.4 L258.1,588.0 Z" fill="#111"/>
<path d="M262.7,629.2 L253.7,639.0" stroke="#111" stroke-width="2"/>
<path d="M251,642 L251.5,637.0 L255.9,641.1 Z" fill="#111"/>
<path d="M187.7,664.4 L173.8,658.8" stroke="#111" stroke-width="2"/>
<path d="M170.1,657.3 L174.9,656.0 L172.7,661.6 Z" fill="#111"/>
<path d="M95,681 L79.9,677.0" stroke="#bbb" stroke-width="2"/>
<path d="M76,676 L80.6,674.1 L79.1,679.9 Z" fill="#bbb"/>
<path d="M425.5,442 L517.5,636" stroke="#111" stroke-width="1.6"/>
<text x="522.0" y="612.5" font-family="Liberation Sans" font-size="13.8" fill="#111" textLength="612.0" lengthAdjust="spacingAndGlyphs" >*Una vez aterrice el helicóptero, un auto irá por los visitantes y los llevará a la boletera.</text>
<text x="522.0" y="631.5" font-family="Liberation Sans" font-size="13.8" fill="#111" textLength="634.0" lengthAdjust="spacingAndGlyphs" >Importante mantenerse en la zona de helicópteros. El paso por la pista es intermintente y</text>
<text x="522.0" y="649.5" font-family="Liberation Sans" font-size="13.8" fill="#111" textLength="623.0" lengthAdjust="spacingAndGlyphs" >si durante su llegada hay actividad en pista, la recogida puede tardar algunos minutos.</text>
<text x="522.0" y="667.5" font-family="Liberation Sans" font-size="13.8" fill="#111" textLength="586.0" lengthAdjust="spacingAndGlyphs" >Nota: Diagrama de ubicación de zonas (imágenes y colores) es solo de referencia.</text>
<rect x="0" y="0" width="1280" height="182" fill="#042246"/>
<defs><linearGradient id="hl" x1="0" x2="1" y1="0" y2="0"><stop offset="0" stop-color="#1ef2f2"/><stop offset="0.27" stop-color="#18c8d8"/><stop offset="0.5" stop-color="#1098a8"/><stop offset="0.75" stop-color="#0a4f70"/><stop offset="1" stop-color="#042246"/></linearGradient></defs>
<rect x="0" y="181" width="1280" height="4" fill="url(#hl)"/>
<text x="77.96" y="88.0" font-family="Liberation Sans" font-weight="bold" font-size="52.47" fill="#1ef4f4" textLength="60.28" lengthAdjust="spacingAndGlyphs" stroke="#1ef4f4" stroke-width="0.8" stroke-linejoin="round">M</text>
<text x="134.79" y="88.0" font-family="Liberation Sans" font-weight="bold" font-size="52.47" fill="#1ef4f4" textLength="42.36" lengthAdjust="spacingAndGlyphs" stroke="#1ef4f4" stroke-width="0.8" stroke-linejoin="round">A</text>
<text x="174.74" y="88.0" font-family="Liberation Sans" font-weight="bold" font-size="52.47" fill="#1ef4f4" textLength="36.54" lengthAdjust="spacingAndGlyphs" stroke="#1ef4f4" stroke-width="0.8" stroke-linejoin="round">P</text>
<text x="207.94" y="88.0" font-family="Liberation Sans" font-weight="bold" font-size="52.47" fill="#1ef4f4" textLength="42.36" lengthAdjust="spacingAndGlyphs" stroke="#1ef4f4" stroke-width="0.8" stroke-linejoin="round">A</text>
<text x="259.46" y="88.0" font-family="Liberation Sans" font-weight="bold" font-size="52.47" fill="#1ef4f4" textLength="46.34" lengthAdjust="spacingAndGlyphs" stroke="#1ef4f4" stroke-width="0.8" stroke-linejoin="round">D</text>
<text x="301.29" y="88.0" font-family="Liberation Sans" font-weight="bold" font-size="52.47" fill="#1ef4f4" textLength="36.02" lengthAdjust="spacingAndGlyphs" stroke="#1ef4f4" stroke-width="0.8" stroke-linejoin="round">E</text>
<text x="346.90" y="88.0" font-family="Liberation Sans" font-weight="bold" font-size="52.47" fill="#1ef4f4" textLength="38.93" lengthAdjust="spacingAndGlyphs" stroke="#1ef4f4" stroke-width="0.8" stroke-linejoin="round">Z</text>
<text x="384.65" y="88.0" font-family="Liberation Sans" font-weight="bold" font-size="52.47" fill="#1ef4f4" textLength="42.65" lengthAdjust="spacingAndGlyphs" stroke="#1ef4f4" stroke-width="0.8" stroke-linejoin="round">O</text>
<text x="424.79" y="88.0" font-family="Liberation Sans" font-weight="bold" font-size="52.47" fill="#1ef4f4" textLength="44.35" lengthAdjust="spacingAndGlyphs" stroke="#1ef4f4" stroke-width="0.8" stroke-linejoin="round">N</text>
<text x="466.44" y="88.0" font-family="Liberation Sans" font-weight="bold" font-size="52.47" fill="#1ef4f4" textLength="45.21" lengthAdjust="spacingAndGlyphs" stroke="#1ef4f4" stroke-width="0.8" stroke-linejoin="round">A</text>
<text x="511.44" y="88.0" font-family="Liberation Sans" font-weight="bold" font-size="52.47" fill="#1ef4f4" textLength="33.73" lengthAdjust="spacingAndGlyphs" stroke="#1ef4f4" stroke-width="0.8" stroke-linejoin="round">S</text>
<text x="82.0" y="114.5" font-family="Liberation Sans" font-weight="bold" font-size="23.7" fill="#ffffff" textLength="857.7" lengthAdjust="spacingAndGlyphs" >GT DE LAS AMÉRICAS | CATEGORÍAS NACIONALES | TCR | GT CHALLENGE</text>
<text x="82.0" y="139.8" font-family="Liberation Sans" font-size="25.6" fill="#ffffff" textLength="238.3" lengthAdjust="spacingAndGlyphs" stroke="#ffffff" stroke-width="0.45">7 Y 8 DE JUNIO 2025</text>
<g transform="translate(1078,44) scale(0.08281573498964803)">
<path d="M130,590 L52,458 Q40,440 54,420 L300,80 Q330,45 380,45 L492,45 L842,590 Z " fill="#1ef4f4"/>
<path d="M507,46 L1060,46 C1180,46 1222,150 1218,250 C1214,370 1130,450 1000,450 L940,450 L862,592 L852,592 Z" fill="#1ef4f4"/>
<path d="M400,262 L530,450 L408,450 L408,470 L445,470 L492,592 L134,592 Z M588,195 L1000,195 C1045,195 1062,230 1062,268 C1062,310 1045,340 1000,340 L830,340 L752,446 Z" fill="#042246"/>
<path d="M285,472 L345,472 L362,508 L302,508 Z M400,472 L448,472 L465,508 L417,508 Z M250,520 L322,520 L342,568 L270,568 Z M375,520 L445,520 L465,568 L395,568 Z" fill="#1ef4f4"/>
<path d="M492,45 L842,590" stroke="#042246" stroke-width="9" fill="none"/>
</g>
<text x="1025.0" y="121.9" font-family="Liberation Sans" font-weight="bold" font-size="21.8" fill="#1ef4f4" textLength="211.0" lengthAdjust="spacingAndGlyphs" stroke="#1ef4f4" stroke-width="0.6">AUTÓDROMO</text>
<text x="1059.0" y="141.6" font-family="Liberation Sans" font-weight="bold" font-size="15.4" fill="#1ef4f4" textLength="149.0" lengthAdjust="spacingAndGlyphs" letter-spacing="4" stroke="#1ef4f4" stroke-width="1.0">PANAMÁ</text>
<text x="176.1" y="711.5" font-family="Liberation Sans" font-weight="bold" font-size="13.8" fill="#111" textLength="41.7" lengthAdjust="spacingAndGlyphs" >ZONA</text>
<text x="488.6" y="711.5" font-family="Liberation Sans" font-weight="bold" font-size="13.8" fill="#111" textLength="94.0" lengthAdjust="spacingAndGlyphs" >DESCRIPCIÓN</text>
<text x="974.1" y="711.5" font-family="Liberation Sans" font-weight="bold" font-size="14.0" fill="#111" textLength="78.7" lengthAdjust="spacingAndGlyphs" >PREVENTA</text>
<text x="1063.9" y="711.5" font-family="Liberation Sans" font-weight="bold" font-size="14.0" fill="#111" textLength="69.0" lengthAdjust="spacingAndGlyphs" >REGULAR</text>
<rect x="148.4" y="721" width="990.2" height="40.4" fill="#66c87d"/>
<rect x="971.9" y="721" width="166.7" height="40.4" fill="#5ebb73"/>
<rect x="1055.7" y="721" width="1.5" height="40.4" fill="#ffffff"/>
<text x="176.2" y="747.5" font-family="Liberation Sans" font-weight="bold" font-size="18.8" fill="#0a0a0a" textLength="124.0" lengthAdjust="spacingAndGlyphs" >GRAND STAND</text>
<text x="487.2" y="747.2" font-family="Liberation Sans" font-size="18.2" fill="#0a0a0a" textLength="356.8" lengthAdjust="spacingAndGlyphs" >Grada techada con butacas numeradas</text>
<text x="1000.2" y="747.2" font-family="Liberation Sans" font-size="18.2" fill="#0a0a0a" textLength="26.0" lengthAdjust="spacingAndGlyphs" >$12</text>
<text x="1082.3" y="747.2" font-family="Liberation Sans" font-size="18.2" fill="#0a0a0a" textLength="30.9" lengthAdjust="spacingAndGlyphs" >$20</text>
<rect x="148.4" y="766.6" width="990.2" height="50.1" fill="#0b5081"/>
<rect x="971.9" y="766.6" width="166.7" height="50.1" fill="#08507e"/>
<rect x="1055.7" y="766.6" width="1.5" height="50.1" fill="#ffffff"/>
<text x="176.2" y="787.5" font-family="Liberation Sans" font-weight="bold" font-size="18.3" fill="#2ee870" textLength="264.3" lengthAdjust="spacingAndGlyphs" >GRAND STAND + LOUNGE (IZQ)</text>
<text x="176.2" y="806.3" font-family="Liberation Sans" font-weight="bold" font-size="18.3" fill="#2ee870" textLength="198.3" lengthAdjust="spacingAndGlyphs" >EN GRADERÍA NIVEL 100</text>
<text x="487.2" y="788.0" font-family="Liberation Sans" font-size="18.2" fill="#2ee870" textLength="356.8" lengthAdjust="spacingAndGlyphs" >Grada techada con butacas numeradas</text>
<text x="487.2" y="805.0" font-family="Liberation Sans" font-size="18.2" fill="#2ee870" textLength="226.6" lengthAdjust="spacingAndGlyphs" >+ terraza abierta sin a/c +</text>
<text x="720.0" y="805.0" font-family="Liberation Sans" font-weight="bold" font-size="18.2" fill="#2ee870" textLength="114.0" lengthAdjust="spacingAndGlyphs" >OPEN DRINKS</text>
<text x="997.8" y="797.7" font-family="Liberation Sans" font-size="18.2" fill="#2ee870" textLength="30.9" lengthAdjust="spacingAndGlyphs" >$39</text>
<text x="1082.3" y="797.7" font-family="Liberation Sans" font-size="18.2" fill="#2ee870" textLength="30.9" lengthAdjust="spacingAndGlyphs" >$59</text>
<rect x="148.4" y="822.2" width="990.2" height="39.5" fill="#ff6349"/>
<rect x="971.9" y="822.2" width="166.7" height="39.5" fill="#f55e44"/>
<rect x="1055.7" y="822.2" width="1.5" height="39.5" fill="#ffffff"/>
<text x="176.2" y="848.2" font-family="Liberation Sans" font-weight="bold" font-size="18.8" fill="#0a0a0a" textLength="75.8" lengthAdjust="spacingAndGlyphs" >CURVA 6</text>
<text x="487.2" y="848.0" font-family="Liberation Sans" font-size="18.2" fill="#0a0a0a" textLength="344.4" lengthAdjust="spacingAndGlyphs" >Grada techada + Fan Zone y After Party</text>
<text x="997.8" y="848.0" font-family="Liberation Sans" font-size="18.2" fill="#0a0a0a" textLength="30.9" lengthAdjust="spacingAndGlyphs" >$40</text>
<text x="1082.3" y="848.0" font-family="Liberation Sans" font-size="18.2" fill="#0a0a0a" textLength="30.9" lengthAdjust="spacingAndGlyphs" >$60</text>
<rect x="148.4" y="867.4" width="990.2" height="40.3" fill="#04bed3"/>
<rect x="971.9" y="867.4" width="166.7" height="40.3" fill="#03b2c4"/>
<rect x="1055.7" y="867.4" width="1.5" height="40.3" fill="#ffffff"/>
<text x="176.2" y="893.8" font-family="Liberation Sans" font-weight="bold" font-size="18.8" fill="#0a0a0a" textLength="188.8" lengthAdjust="spacingAndGlyphs" >LOUNGE 1 “RACE CAR”</text>
<text x="487.2" y="893.5" font-family="Liberation Sans" font-size="18.2" fill="#0a0a0a" textLength="329.7" lengthAdjust="spacingAndGlyphs" >Zona con A/C + Fan Zone y After Party</text>
<text x="995.1" y="893.5" font-family="Liberation Sans" font-size="18.2" fill="#0a0a0a" textLength="36.3" lengthAdjust="spacingAndGlyphs" >$150</text>
<text x="1077.2" y="893.5" font-family="Liberation Sans" font-size="18.2" fill="#0a0a0a" textLength="41.2" lengthAdjust="spacingAndGlyphs" >$200</text>
<rect x="148.4" y="913.2" width="990.2" height="39.6" fill="#04bed3"/>
<rect x="971.9" y="913.2" width="166.7" height="39.6" fill="#03b2c4"/>
<rect x="1055.7" y="913.2" width="1.5" height="39.6" fill="#ffffff"/>
<text x="176.2" y="939.3" font-family="Liberation Sans" font-weight="bold" font-size="18.8" fill="#0a0a0a" textLength="213.3" lengthAdjust="spacingAndGlyphs" >LOUNGE 2 “TRACK RACE”</text>
<text x="487.2" y="939.0" font-family="Liberation Sans" font-size="18.2" fill="#0a0a0a" textLength="332.8" lengthAdjust="spacingAndGlyphs" >Zona techada + Fan Zone y After Party</text>
<text x="997.8" y="939.0" font-family="Liberation Sans" font-size="18.2" fill="#0a0a0a" textLength="30.9" lengthAdjust="spacingAndGlyphs" >$90</text>
<text x="1079.6" y="939.0" font-family="Liberation Sans" font-size="18.2" fill="#0a0a0a" textLength="36.3" lengthAdjust="spacingAndGlyphs" >$120</text>
<rect x="148.4" y="958.3" width="990.2" height="40.1" fill="#04bed3"/>
<rect x="971.9" y="958.3" width="166.7" height="40.1" fill="#03b2c4"/>
<text x="176.2" y="984.6" font-family="Liberation Sans" font-weight="bold" font-size="18.8" fill="#0a0a0a" textLength="192.1" lengthAdjust="spacingAndGlyphs" >LOUNGE 3 “SPEED LAP”</text>
<text x="487.2" y="984.3" font-family="Liberation Sans" font-size="18.2" fill="#0a0a0a" textLength="332.8" lengthAdjust="spacingAndGlyphs" >Zona techada + Fan Zone y After Party</text>
<text x="1014.7" y="984.3" font-family="Liberation Sans" font-weight="bold" font-size="17.9" fill="#0a0a0a" textLength="83.6" lengthAdjust="spacingAndGlyphs" >SOLD OUT</text>
<rect x="148.4" y="1004.6" width="990.2" height="40.0" fill="#fdd8ce"/>
<rect x="971.9" y="1004.6" width="166.7" height="40.0" fill="#f4cbbe"/>
<rect x="1055.7" y="1004.6" width="1.5" height="40.0" fill="#ffffff"/>
<text x="176.2" y="1030.9" font-family="Liberation Sans" font-weight="bold" font-size="18.8" fill="#0a0a0a" textLength="258.7" lengthAdjust="spacingAndGlyphs" >ESTACIONAMIENTO GRADERÍA</text>
<text x="487.2" y="1030.6" font-family="Liberation Sans" font-size="18.2" fill="#0a0a0a" textLength="136.6" lengthAdjust="spacingAndGlyphs" >Solo para autos</text>
<text x="1002.9" y="1030.6" font-family="Liberation Sans" font-size="18.2" fill="#0a0a0a" textLength="20.6" lengthAdjust="spacingAndGlyphs" >$5</text>
<text x="1084.8" y="1030.6" font-family="Liberation Sans" font-size="18.2" fill="#0a0a0a" textLength="26.0" lengthAdjust="spacingAndGlyphs" >$12</text>
<rect x="148.4" y="1050.3" width="990.2" height="39.4" fill="#a582bf"/>
<rect x="971.9" y="1050.3" width="166.7" height="39.4" fill="#9c78b4"/>
<rect x="1055.7" y="1050.3" width="1.5" height="39.4" fill="#ffffff"/>
<text x="176.2" y="1076.3" font-family="Liberation Sans" font-weight="bold" font-size="18.8" fill="#0a0a0a" textLength="257.6" lengthAdjust="spacingAndGlyphs" >ESTACIONAMIENTO PADDOCK</text>
<text x="487.2" y="1076.0" font-family="Liberation Sans" font-size="18.2" fill="#0a0a0a" textLength="136.6" lengthAdjust="spacingAndGlyphs" >Solo para autos</text>
<text x="997.8" y="1076.0" font-family="Liberation Sans" font-size="18.2" fill="#0a0a0a" textLength="30.9" lengthAdjust="spacingAndGlyphs" >$30</text>
<text x="1082.3" y="1076.0" font-family="Liberation Sans" font-size="18.2" fill="#0a0a0a" textLength="30.9" lengthAdjust="spacingAndGlyphs" >$50</text>
<rect x="148.4" y="1095.4" width="990.2" height="53.7" fill="#fe2a7b"/>
<text x="176.2" y="1128.5" font-family="Liberation Sans" font-weight="bold" font-size="18.8" fill="#0a0a0a" textLength="82.8" lengthAdjust="spacingAndGlyphs" >CURVA 14</text>
<text x="487.2" y="1118.0" font-family="Liberation Sans" font-size="18.2" fill="#0a0a0a" textLength="446.0" lengthAdjust="spacingAndGlyphs" >Espacios Privados en paquetes de 60 y 120 boletos.</text>
<text x="487.2" y="1137.2" font-family="Liberation Sans" font-size="18.2" fill="#0a0a0a" textLength="561.8" lengthAdjust="spacingAndGlyphs" >Fan Zone y After Party. Solicitar a: info@autodromopanama.com</text>
<rect x="148.4" y="1155.1" width="990.2" height="39.5" fill="#0396f7"/>
<text x="176.2" y="1181.1" font-family="Liberation Sans" font-weight="bold" font-size="18.8" fill="#0a0a0a" textLength="82.8" lengthAdjust="spacingAndGlyphs" >CURVA 15</text>
<text x="487.2" y="1180.8" font-family="Liberation Sans" font-size="18.2" fill="#0a0a0a" textLength="133.8" lengthAdjust="spacingAndGlyphs" >Grada techada</text>
<text x="1014.7" y="1180.8" font-family="Liberation Sans" font-weight="bold" font-size="17.9" fill="#0a0a0a" textLength="83.6" lengthAdjust="spacingAndGlyphs" >SOLD OUT</text>
<rect x="148.4" y="1202.2" width="990.2" height="129.8" fill="#fde322"/>
<rect x="971.9" y="1202.2" width="166.7" height="129.8" fill="#f5d91e"/>
<rect x="1055.7" y="1202.2" width="1.5" height="129.8" fill="#ffffff"/>
<text x="176.3" y="1251.3" font-family="Liberation Sans" font-weight="bold" font-size="18.9" fill="#111" textLength="164.9" lengthAdjust="spacingAndGlyphs" >PAQUETE CURVA 15</text>
<text x="176.3" y="1273.2" font-family="Liberation Sans" font-size="17.4" fill="#111" textLength="162.9" lengthAdjust="spacingAndGlyphs" >Solicita tu paquete en:</text>
<text x="176.3" y="1289.6" font-family="Liberation Sans" font-weight="bold" font-size="17.4" fill="#111" textLength="234.0" lengthAdjust="spacingAndGlyphs" >www.autodromopanama.com</text>
<text x="995.0" y="1267.2" font-family="Liberation Sans" font-size="18.6" fill="#111" textLength="36.5" lengthAdjust="spacingAndGlyphs" >$150</text>
<text x="1077.0" y="1267.2" font-family="Liberation Sans" font-size="18.6" fill="#111" textLength="41.5" lengthAdjust="spacingAndGlyphs" >$250</text>
<text x="643.6" y="1224.2" font-family="Liberation Sans" font-size="17.4" fill="#111" textLength="138.7" lengthAdjust="spacingAndGlyphs" >Incluye acceso de:</text>
<rect x="470.8" y="1237" width="52.6" height="51.8" rx="4" fill="none" stroke="#1a1a1a" stroke-width="2.2"/>
<text x="497.1" y="1303.5" font-family="Liberation Sans" font-size="10.5" fill="#222" text-anchor="middle" letter-spacing="-0.3">1 AUTO</text>
<rect x="531.3" y="1237" width="52.6" height="51.8" rx="4" fill="none" stroke="#1a1a1a" stroke-width="2.2"/>
<text x="557.6" y="1303.5" font-family="Liberation Sans" font-size="10.5" fill="#222" text-anchor="middle" letter-spacing="-0.3">5 PERSONAS</text>
<text x="557.6" y="1314.5" font-family="Liberation Sans" font-size="10.5" fill="#222" text-anchor="middle" letter-spacing="-0.3">MÁXIMO</text>
<rect x="593.0" y="1237" width="52.6" height="51.8" rx="4" fill="none" stroke="#1a1a1a" stroke-width="2.2"/>
<text x="619.3" y="1303.5" font-family="Liberation Sans" font-size="10.5" fill="#222" text-anchor="middle" letter-spacing="-0.3">TOLDA</text>
<text x="619.3" y="1314.5" font-family="Liberation Sans" font-size="10.5" fill="#222" text-anchor="middle" letter-spacing="-0.3">BLANCA 3X3</text>
<rect x="654.4" y="1237" width="52.6" height="51.8" rx="4" fill="none" stroke="#1a1a1a" stroke-width="2.2"/>
<text x="680.7" y="1303.5" font-family="Liberation Sans" font-size="10.5" fill="#222" text-anchor="middle" letter-spacing="-0.3">SILLAS</text>
<rect x="715.7" y="1237" width="52.6" height="51.8" rx="4" fill="none" stroke="#1a1a1a" stroke-width="2.2"/>
<text x="742.0" y="1303.5" font-family="Liberation Sans" font-size="10.5" fill="#222" text-anchor="middle" letter-spacing="-0.3">BBQ</text>
<rect x="776.6" y="1237" width="52.6" height="51.8" rx="4" fill="none" stroke="#1a1a1a" stroke-width="2.2"/>
<text x="802.9" y="1303.5" font-family="Liberation Sans" font-size="10.5" fill="#222" text-anchor="middle" letter-spacing="-0.3">ALIMENTOS</text>
<rect x="838.0" y="1237" width="52.6" height="51.8" rx="4" fill="none" stroke="#1a1a1a" stroke-width="2.2"/>
<text x="864.3" y="1303.5" font-family="Liberation Sans" font-size="10.5" fill="#222" text-anchor="middle" letter-spacing="-0.3">COOLER</text>
<rect x="897.7" y="1237" width="52.6" height="51.8" rx="4" fill="none" stroke="#1a1a1a" stroke-width="2.2"/>
<text x="924.0" y="1303.5" font-family="Liberation Sans" font-size="10.5" fill="#222" text-anchor="middle" letter-spacing="-0.3">BEBIDAS</text>
<g transform="translate(469.8,1236)"><path d="M15,9 L40,9 L42,19 L13,19 Z" fill="none" stroke="#1a1a1a" stroke-width="2.2"/><rect x="9" y="18" width="37" height="20" rx="2" fill="#1a1a1a"/><rect x="6" y="19" width="4" height="3" fill="#1a1a1a"/><rect x="45" y="19" width="4" height="3" fill="#1a1a1a"/><circle cx="15" cy="26" r="2.6" fill="#fde322"/><circle cx="40" cy="26" r="2.6" fill="#fde322"/><path d="M21,22v8M24,22v8M27.5,22v8M31,22v8M34,22v8" stroke="#fde322" stroke-width="1.3"/><rect x="11" y="37" width="8" height="7" fill="#1a1a1a"/><rect x="36" y="37" width="8" height="7" fill="#1a1a1a"/><rect x="9" y="32" width="37" height="2" fill="#fde322"/></g>
<g transform="translate(530.3,1236)"><circle cx="12.0" cy="18" r="2.2" fill="#1a1a1a"/><path d="M9.0,21 h6 v9 h-1.3 v8 h-1.4 v-7 h-0.6 v7 h-1.4 v-8 h-1.3 Z" fill="#1a1a1a"/><circle cx="19.6" cy="18" r="2.2" fill="#1a1a1a"/><path d="M16.6,21 h6 v9 h-1.3 v8 h-1.4 v-7 h-0.6 v7 h-1.4 v-8 h-1.3 Z" fill="#1a1a1a"/><circle cx="27.2" cy="18" r="2.2" fill="#1a1a1a"/><path d="M24.2,21 h6 v9 h-1.3 v8 h-1.4 v-7 h-0.6 v7 h-1.4 v-8 h-1.3 Z" fill="#1a1a1a"/><circle cx="34.8" cy="18" r="2.2" fill="#1a1a1a"/><path d="M31.8,21 h6 v9 h-1.3 v8 h-1.4 v-7 h-0.6 v7 h-1.4 v-8 h-1.3 Z" fill="#1a1a1a"/><circle cx="42.4" cy="18" r="2.2" fill="#1a1a1a"/><path d="M39.4,21 h6 v9 h-1.3 v8 h-1.4 v-7 h-0.6 v7 h-1.4 v-8 h-1.3 Z" fill="#1a1a1a"/></g>
<g transform="translate(592.0,1236)"><path d="M9,20 L19,12 L36,12 L46,20 Z" fill="#1a1a1a"/><path d="M10,20 L10,44 M45,20 L45,44 M19,20 L19,41 M36,20 L36,41" stroke="#1a1a1a" stroke-width="1"/><path d="M9,20 h37" stroke="#1a1a1a" stroke-width="2"/></g>
<g transform="translate(653.4,1236)"><rect x="18" y="12" width="19" height="9" fill="none" stroke="#1a1a1a" stroke-width="2"/><path d="M18,10 V28 M37,10 V28 M15,27 H40 M20,28 L36,44 M35,28 L19,44" stroke="#1a1a1a" stroke-width="2.4" fill="none"/></g>
<g transform="translate(714.7,1236)"><path d="M24,8 q-2,2 0,4 q2,2 0,4 M28,8 q-2,2 0,4 q2,2 0,4 M32,8 q-2,2 0,4 q2,2 0,4" stroke="#1a1a1a" stroke-width="1" fill="none"/><path d="M14,21 H42 A14,12 0 0 1 14,21 Z" fill="#1a1a1a"/><path d="M14,19 H42" stroke="#1a1a1a" stroke-width="2"/><path d="M22,31 L18,44 M34,31 L38,44 M28,33 V44" stroke="#1a1a1a" stroke-width="1.8"/><circle cx="37.5" cy="43" r="2" fill="#1a1a1a"/></g>
<g transform="translate(775.6,1236)"><path d="M12,26 C10,16 22,13 32,16 C41,18 46,24 44,31 C42,38 34,36 30,40 C24,44 13,38 12,26 Z" fill="#1a1a1a"/><path d="M17,21 C16,18 24,17 31,19 C39,21 41,25 40,29 C39,33 33,32 29,35 C24,38 17,34 17,21 Z" fill="none" stroke="#fde322" stroke-width="1"/><path d="M22,19 V35 M28,18 V36 M34,20 V33 M17,24 H40 M18,30 H38" stroke="#fde322" stroke-width="1"/></g>
<g transform="translate(837.0,1236)"><rect x="8" y="19" width="34" height="19" rx="3" fill="none" stroke="#1a1a1a" stroke-width="1.8"/><path d="M11,24 H39" stroke="#1a1a1a" stroke-width="1"/><path d="M44,10 V38 M47,10 V38" stroke="#1a1a1a" stroke-width="1.4"/><circle cx="12" cy="38" r="3.2" fill="#1a1a1a"/><circle cx="12" cy="38" r="1" fill="#fde322"/><rect x="20" y="33" width="8" height="2" fill="#1a1a1a"/></g>
<g transform="translate(896.7,1236)"><rect x="19" y="10" width="18" height="35" rx="4" fill="#1a1a1a"/><ellipse cx="28" cy="24" rx="6.5" ry="4" fill="#fde322"/><text x="28" y="26" font-family="Liberation Serif" font-style="italic" font-size="5.5" text-anchor="middle" fill="#1a1a1a">Beer</text></g>
<text x="119.5" y="1375.0" font-family="Liberation Sans" font-size="15.4" fill="#16386a" textLength="1047.7" lengthAdjust="spacingAndGlyphs" stroke="#16386a" stroke-width="0.35">Entrada al evento para mayores de 3 años en adelante. Niños de 3 a 12 años pagan $5, medio precio en Lounge y $10 en Curva 6. No se admite mascotas.</text>
<text x="116.3" y="1391.3" font-family="Liberation Sans" font-size="15.4" fill="#16386a" textLength="1054.4" lengthAdjust="spacingAndGlyphs" stroke="#16386a" stroke-width="0.35">No se acepta el ingreso de comidas/bebidas, coolers y asadores (Excepto curva 15). Prohibido el acceso de recipientes de vidrio, objetos punzo cortantes y</text>
<text x="149.5" y="1408.8" font-family="Liberation Sans" font-size="15.4" fill="#16386a" textLength="986.0" lengthAdjust="spacingAndGlyphs" stroke="#16386a" stroke-width="0.35">armas de fuego. En caso de lluvia no se hace devolución. Los boletos de estacionamiento son únicamente para el auto y no para ver las carreras.</text>
<text x="223.4" y="1487.0" font-family="Liberation Sans" font-size="34.9" fill="#0f2b5b" textLength="160.9" lengthAdjust="spacingAndGlyphs" stroke="#0f2b5b" stroke-width="0.6">BOLETOS</text>
<text x="177.5" y="1512.6" font-family="Liberation Sans" font-size="21.2" fill="#0f2b5b" textLength="210.5" lengthAdjust="spacingAndGlyphs" stroke="#0f2b5b" stroke-width="0.5">DISPONIBLES EN:</text>
<path d="M403.6,1453.5 L542.6,1453.5 L545.6,1456.5 L545.6,1483 A5.8,5.8 0 0 0 545.6,1494.5 L545.6,1522 L542.6,1525 L403.6,1525 L400.6,1522 L400.6,1494.5 A5.8,5.8 0 0 0 400.6,1483 L400.6,1456.5 Z" fill="#ed1c24"/>
<path d="M403.6,1524.5 L542.6,1524.5" stroke="#a0141a" stroke-width="1.5"/>
<rect x="411.3" y="1457.3" width="123.7" height="63.3" rx="4" fill="none" stroke="#f7a823" stroke-width="1"/>
<text x="0" y="0" font-family="Liberation Sans" font-weight="bold" font-size="33" fill="#ffffff" stroke="#ffffff" stroke-width="2.4" stroke-linejoin="round" textLength="68" lengthAdjust="spacingAndGlyphs" transform="translate(419,1499) rotate(-11)">PANA</text>
<text x="458.8" y="1502.5" font-family="Liberation Sans" font-size="10.9" fill="#ffffff" textLength="70.6" lengthAdjust="spacingAndGlyphs" >TICKETS.COM</text>
<polygon points="435.00,1507.40 436.00,1509.92 438.71,1510.09 436.62,1511.83 437.29,1514.46 435.00,1513.00 432.71,1514.46 433.38,1511.83 431.29,1510.09 434.00,1509.92" fill="#ffffff"/>
<polygon points="447.50,1507.40 448.50,1509.92 451.21,1510.09 449.12,1511.83 449.79,1514.46 447.50,1513.00 445.21,1514.46 445.88,1511.83 443.79,1510.09 446.50,1509.92" fill="#ffffff"/>
<polygon points="460.60,1507.40 461.60,1509.92 464.31,1510.09 462.22,1511.83 462.89,1514.46 460.60,1513.00 458.31,1514.46 458.98,1511.83 456.89,1510.09 459.60,1509.92" fill="#ffffff"/>
<polygon points="473.00,1507.40 474.00,1509.92 476.71,1510.09 474.62,1511.83 475.29,1514.46 473.00,1513.00 470.71,1514.46 471.38,1511.83 469.29,1510.09 472.00,1509.92" fill="#ffffff"/>
<polygon points="486.00,1507.40 487.00,1509.92 489.71,1510.09 487.62,1511.83 488.29,1514.46 486.00,1513.00 483.71,1514.46 484.38,1511.83 482.29,1510.09 485.00,1509.92" fill="#ffffff"/>
<polygon points="498.80,1507.40 499.80,1509.92 502.51,1510.09 500.42,1511.83 501.09,1514.46 498.80,1513.00 496.51,1514.46 497.18,1511.83 495.09,1510.09 497.80,1509.92" fill="#ffffff"/>
<polygon points="511.30,1507.40 512.30,1509.92 515.01,1510.09 512.92,1511.83 513.59,1514.46 511.30,1513.00 509.01,1514.46 509.68,1511.83 507.59,1510.09 510.30,1509.92" fill="#ffffff"/>
<rect x="565.5" y="1450.2" width="401.5" height="77.3" rx="8" fill="#0a2a56"/>
<rect x="567.8" y="1452.5" width="396.9" height="72.7" rx="6.5" fill="none" stroke="#22c6e6" stroke-width="1.6"/>
<g transform="translate(577.8,1461.4) scale(0.081)">
<path d="M130,590 L52,458 Q40,440 54,420 L300,80 Q330,45 380,45 L492,45 L842,590 Z " fill="#ffffff"/>
<path d="M507,46 L1060,46 C1180,46 1222,150 1218,250 C1214,370 1130,450 1000,450 L940,450 L862,592 L852,592 Z" fill="#ffffff"/>
<path d="M400,262 L530,450 L408,450 L408,470 L445,470 L492,592 L134,592 Z M588,195 L1000,195 C1045,195 1062,230 1062,268 C1062,310 1045,340 1000,340 L830,340 L752,446 Z" fill="#0a2a56"/>
<path d="M285,472 L345,472 L362,508 L302,508 Z M400,472 L448,472 L465,508 L417,508 Z M250,520 L322,520 L342,568 L270,568 Z M375,520 L445,520 L465,568 L395,568 Z" fill="#ffffff"/>
<path d="M492,45 L842,590" stroke="#0a2a56" stroke-width="9" fill="none"/>
</g>
<text x="685.0" y="1483.8" font-family="Liberation Sans" font-weight="bold" font-size="16.9" fill="#1fe6f4" textLength="264.3" lengthAdjust="spacingAndGlyphs" stroke="#1fe6f4" stroke-width="0.6">AUTODROMOPANAMA.COM</text>
<text x="685.0" y="1504.8" font-family="Liberation Sans" font-weight="bold" font-size="15.7" fill="#1fe6f4" textLength="263.5" lengthAdjust="spacingAndGlyphs" stroke="#1fe6f4" stroke-width="0.6">Y TAQUILLA DÍA DEL EVENTO</text>
<rect x="984.1" y="1450.3" width="120.7" height="77.6" rx="7" fill="#0a2a56"/>
<rect x="986.4" y="1452.6" width="116.1" height="73" rx="5.5" fill="none" stroke="#22c6e6" stroke-width="1.6"/>
<text x="1003.4" y="1477.3" font-family="Liberation Sans" font-weight="bold" font-size="17.4" fill="#1fe6f4" textLength="82.0" lengthAdjust="spacingAndGlyphs" >PREVENTA</text>
<text x="1018.0" y="1493.7" font-family="Liberation Sans" font-weight="bold" font-size="17.4" fill="#1fe6f4" textLength="53.4" lengthAdjust="spacingAndGlyphs" >HASTA</text>
<text x="998.1" y="1511.7" font-family="Liberation Sans" font-weight="bold" font-size="17.4" fill="#ffffff" textLength="92.6" lengthAdjust="spacingAndGlyphs" >31 DE MAYO</text>
</svg>
</body></html>
